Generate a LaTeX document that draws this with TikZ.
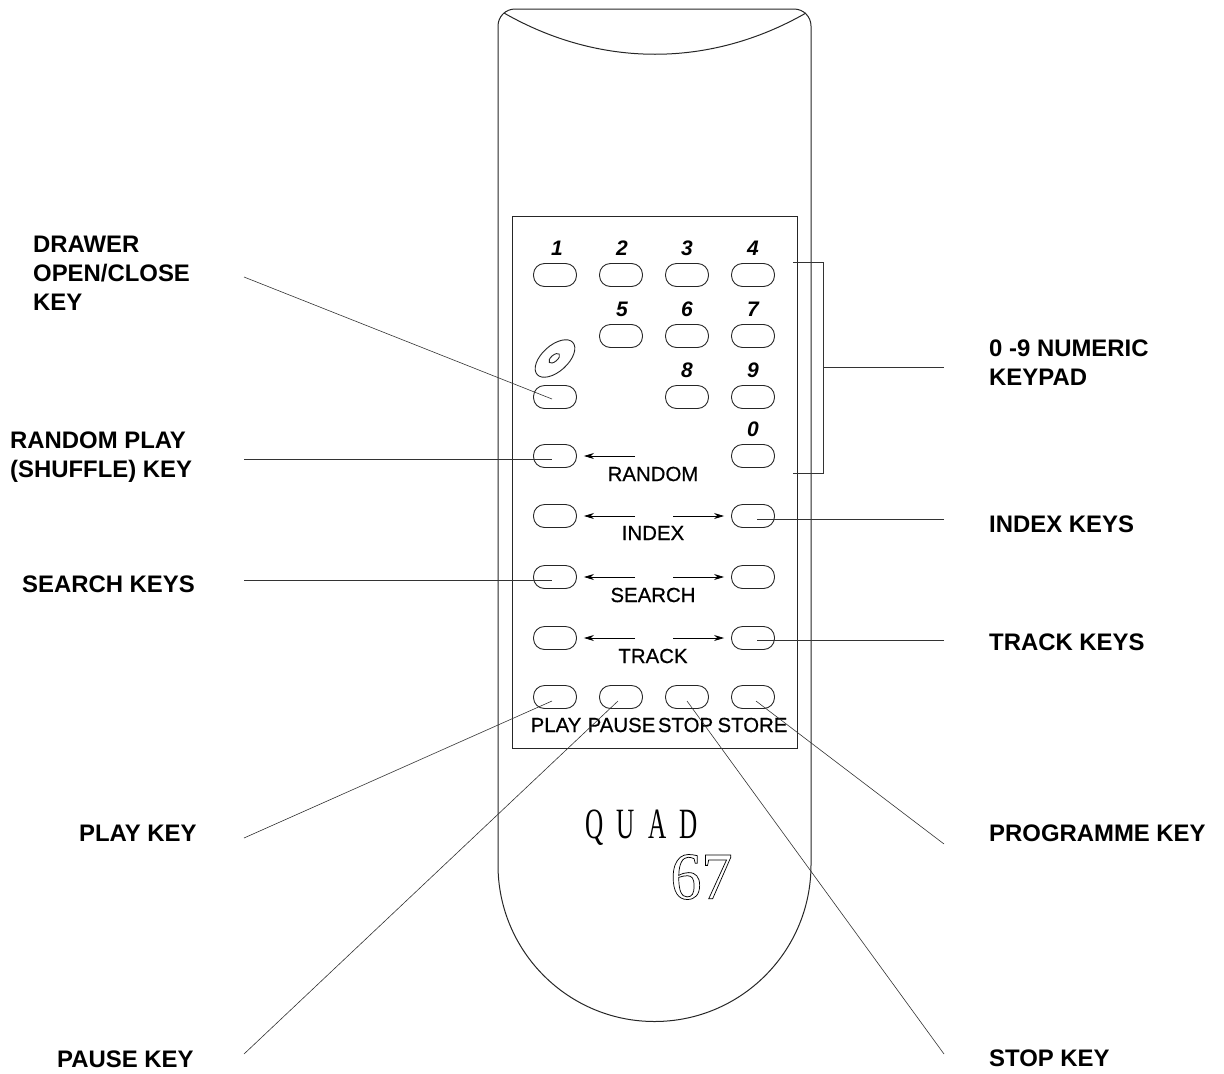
\documentclass[tikz,border=0pt]{standalone}
\usepackage{fontspec}
\setmainfont{Liberation Sans}
\newfontfamily\serifthin{Liberation Serif}
\newfontfamily\panelfont[FakeBold=0.6]{Liberation Sans}
\usetikzlibrary{arrows.meta}
\tikzset{
  x=1pt,y=-1pt,
  outline/.style={draw=black!85,line width=1pt},
  keybtn/.style={draw=black!85,line width=0.9pt,rounded corners=11pt,minimum width=43pt,minimum height=23pt,inner sep=0pt},
  leader/.style={draw=black!80,line width=0.6pt},
  arrowline/.style={draw=black,line width=0.8pt,shorten >=7pt,-{Stealth[length=10pt,width=6pt]}},
  keylabel/.style={inner sep=0pt,font=\fontsize{23.9}{29}\selectfont\bfseries,align=left,anchor=west},
  panellabel/.style={inner sep=0pt,font=\panelfont\fontsize{20.4}{22}\selectfont},
  digit/.style={inner sep=0pt,font=\fontsize{21}{22}\selectfont\bfseries\itshape},
}
\begin{document}
\begin{tikzpicture}
\useasboundingbox (0,0) rectangle (1224,1074);
% body
\draw[outline] (498,865) -- (498,26) arc[start angle=180,end angle=270,radius=17] -- (794,9) arc[start angle=270,end angle=360,radius=17] -- (811,865) arc[start angle=0,end angle=180,radius=156.5] -- cycle;
\draw[outline] (504,13) .. controls (600,68) and (710,68) .. (806,13);
% panel
\draw[outline] (512,216) rectangle (797,748);
% keys
\node[keybtn] (k1) at (555,275) {};
\node[keybtn] (k2) at (621,275) {};
\node[keybtn] (k3) at (687,275) {};
\node[keybtn] (k4) at (753,275) {};
\node[keybtn] (k5) at (621,336) {};
\node[keybtn] (k6) at (687,336) {};
\node[keybtn] (k7) at (753,336) {};
\node[keybtn] (kdrawer) at (555,397) {};
\node[keybtn] (k8) at (687,397) {};
\node[keybtn] (k9) at (753,397) {};
\node[keybtn] (krandom) at (555,456) {};
\node[keybtn] (k0) at (753,456) {};
\node[keybtn] (kil) at (555,516) {};
\node[keybtn] (kir) at (753,516) {};
\node[keybtn] (ksl) at (555,577) {};
\node[keybtn] (ksr) at (753,577) {};
\node[keybtn] (ktl) at (555,638) {};
\node[keybtn] (ktr) at (753,638) {};
\node[keybtn] (kplay) at (555,697) {};
\node[keybtn] (kpause) at (621,697) {};
\node[keybtn] (kstop) at (687,697) {};
\node[keybtn] (kstore) at (753,697) {};
% digits
\node[digit] (d1) at (557,248) {1};
\node[digit] (d2) at (622,248) {2};
\node[digit] (d3) at (687,248) {3};
\node[digit] (d4) at (753,248) {4};
\node[digit] (d5) at (622,309) {5};
\node[digit] (d6) at (687,309) {6};
\node[digit] (d7) at (753,309) {7};
\node[digit] (d8) at (687,370) {8};
\node[digit] (d9) at (753,370) {9};
\node[digit] (d0) at (753,429) {0};
% disc
\draw[outline,line width=0.9pt] (555,358.5) ellipse[x radius=24,y radius=13,rotate=42];
\draw[outline,line width=0.9pt] (554.3,358.3) ellipse[x radius=6.5,y radius=3.2,rotate=40];
% panel labels
\node[panellabel] (lrandom) at (653,474) {RANDOM};
\node[panellabel] (lindex) at (653,533) {INDEX};
\node[panellabel] (lsearch) at (653,595) {SEARCH};
\node[panellabel] (ltrack) at (653,656) {TRACK};
\node[panellabel] (lplay) at (556,725) {PLAY};
\node[panellabel] (lpause) at (621.5,725) {PAUSE};
\node[panellabel] (lstop) at (685.5,725) {STOP};
\node[panellabel] (lstore) at (752.5,725) {STORE};
% arrows
\coordinate (ar) at (635,456);
\coordinate (ai1) at (635,516);
\coordinate (ai2) at (673,516);
\coordinate (as1) at (635,577);
\coordinate (as2) at (673,577);
\coordinate (at1) at (635,638);
\coordinate (at2) at (673,638);
\draw[arrowline] (ar) -- (krandom.east);
\draw[arrowline] (ai1) -- (kil.east);
\draw[arrowline] (ai2) -- (kir.west);
\draw[arrowline] (as1) -- (ksl.east);
\draw[arrowline] (as2) -- (ksr.west);
\draw[arrowline] (at1) -- (ktl.east);
\draw[arrowline] (at2) -- (ktr.west);
% brand
\node[inner sep=0pt] (quad) at (641.5,828) {\serifthin\fontsize{36}{36}\selectfont\scalebox{0.7}[1.2]{Q\hspace{0.52em}U\hspace{0.52em}A\hspace{0.52em}D}};
\node[inner sep=0pt] (model) at (701.5,877) {\serifthin\fontsize{62}{62}\selectfont\special{pdf:code q 1 Tr 0.7 w}\scalebox{1.0}[1.08]{67}\special{pdf:code Q}};
% outer labels
\node[keylabel] (tdrawer) at (33,273) {DRAWER\\OPEN/CLOSE\\KEY};
\node[keylabel] (trandom) at (10,457.5) {RANDOM PLAY\\(SHUFFLE) KEY};
\node[keylabel] (tsearch) at (22,584) {SEARCH KEYS};
\node[keylabel] (tplay) at (79,833) {PLAY KEY};
\node[keylabel] (tpause) at (57,1059) {PAUSE KEY};
\node[keylabel] (tkeypad) at (989,362.5) {0 -9 NUMERIC\\KEYPAD};
\node[keylabel] (tindex) at (989,524) {INDEX KEYS};
\node[keylabel] (ttrack) at (989,642) {TRACK KEYS};
\node[keylabel] (tprog) at (989,833) {PROGRAMME KEY};
\node[keylabel] (tstop) at (989,1058) {STOP KEY};
% leaders
\coordinate (cdrawer) at (244,277);
\coordinate (crandom) at (244,459);
\coordinate (csearch) at (244,580);
\coordinate (cplay) at (244,838);
\coordinate (cpause) at (244,1054);
\coordinate (ckeypad) at (944,367);
\coordinate (cindex) at (944,519);
\coordinate (ctrack) at (944,640);
\coordinate (cprog) at (944,844);
\coordinate (cstop) at (944,1054);
\draw[leader] (cdrawer) -- ([shift={(-3,2)}]kdrawer.center);
\draw[leader] (crandom) -- ([shift={(-3,3)}]krandom.center);
\draw[leader] (csearch) -- ([shift={(-3,3)}]ksl.center);
\draw[leader] (cplay) -- ([shift={(-3,4)}]kplay.center);
\draw[leader] (cpause) -- ([shift={(-3,4)}]kpause.center);
\draw[leader] (cindex) -- ([shift={(4,3)}]kir.center);
\draw[leader] (ctrack) -- ([shift={(4,2)}]ktr.center);
\draw[leader] (cprog) -- ([shift={(3,4)}]kstore.center);
\draw[leader] (cstop) -- ([shift={(0,4)}]kstop.center);
% bracket
\coordinate (b1) at (793,262);
\coordinate (b2) at (823,262);
\coordinate (b3) at (823,473);
\coordinate (b4) at (793,473);
\coordinate (bm) at (823,367);
\draw[leader] (b1) -- (b2) -- (b3) -- (b4);
\draw[leader] (bm) -- (ckeypad);
\end{tikzpicture}
\end{document}
